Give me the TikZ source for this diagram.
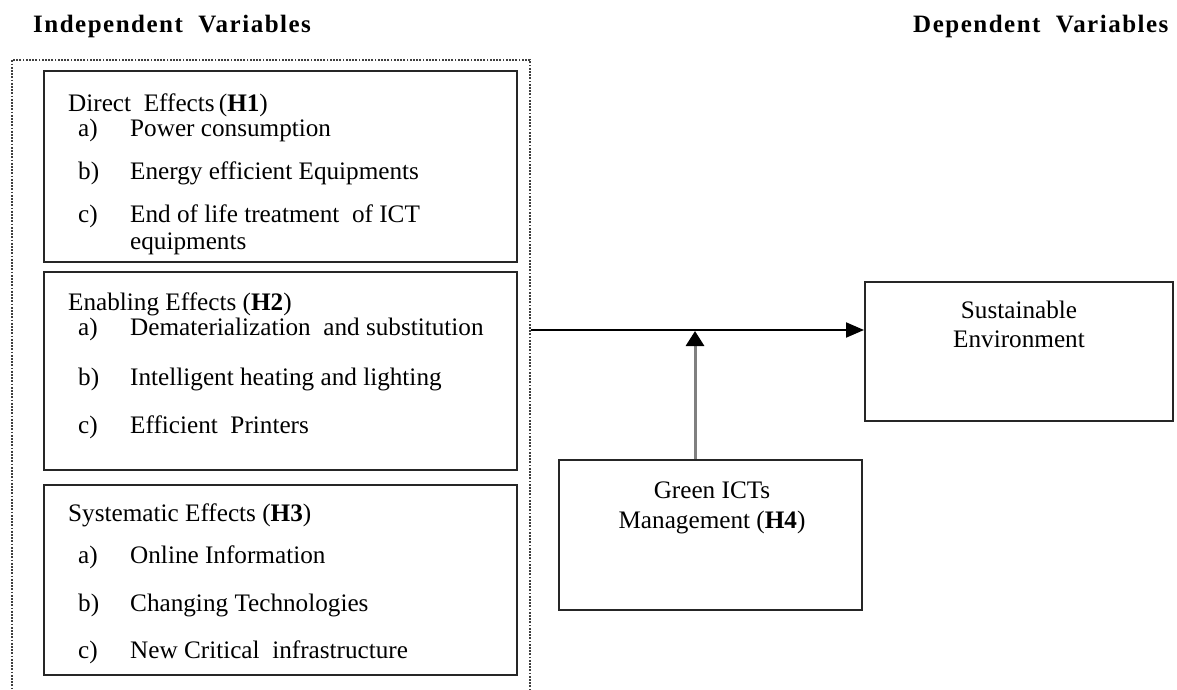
\documentclass[tikz,border=0pt]{standalone}
\usepackage{fontspec}
\setmainfont{Liberation Serif}
\usetikzlibrary{arrows.meta}
\tikzset{
  box/.style={draw=black!85, line width=2pt, inner sep=0pt},
  dotbox/.style={draw=black!75, line width=2pt, dash pattern=on 1.8pt off 1.4pt},
  lbl/.style={anchor=base west, inner sep=0pt},
  ctr/.style={anchor=base, inner sep=0pt, align=center},
  head/.style={anchor=base west, inner sep=0pt, font=\fontsize{25}{28}\selectfont\bfseries\addfontfeature{LetterSpace=6}},
  arr/.style={line width=2pt, -{Triangle[length=18pt,width=15pt]}},
  garr/.style={line width=3pt, draw=black!50, -{Triangle[length=15pt,width=18pt,color=black]}},
}
\begin{document}
\begin{tikzpicture}[x=1pt,y=-1pt,font=\fontsize{25.2}{28}\selectfont]
\useasboundingbox (0,0) rectangle (1177,689);
% headings
\node[head] (hin) at (33,32) {Independent\ \ Variables};
\node[head] (hdep) at (913,32) {Dependent\ \ Variables};
% dotted container
\node[dotbox, minimum width=518pt, minimum height=650pt, inner sep=0pt] (indep) at (271,385) {};
% boxes
\node[box, minimum width=473pt, minimum height=191pt] (h1) at (280.5,166.5) {};
\node[box, minimum width=473pt, minimum height=198pt] (h2) at (280.5,371) {};
\node[box, minimum width=473pt, minimum height=190pt] (h3) at (280.5,580) {};
\node[box, minimum width=308pt, minimum height=139pt] (se) at (1019,351.5) {};
\node[box, minimum width=303pt, minimum height=150pt] (gm) at (710.5,535) {};
% H1 text
\node[lbl] (t1) at (68,111) {Direct\ \ Effects\,(\textbf{H1})};
\node[lbl] (t1a) at (78,136) {a)};
\node[lbl] (t1at) at (130,136) {Power consumption};
\node[lbl] (t1b) at (78,179) {b)};
\node[lbl] (t1bt) at (130,179) {Energy efficient Equipments};
\node[lbl] (t1c) at (78,222) {c)};
\node[lbl] (t1ct) at (130,222) {End of life treatment\ \ of ICT};
\node[lbl] (t1ct2) at (130,249) {equipments};
% H2 text
\node[lbl] (t2) at (68,310) {Enabling Effects (\textbf{H2})};
\node[lbl] (t2a) at (78,335) {a)};
\node[lbl] (t2at) at (130,335) {Dematerialization\ \ and substitution};
\node[lbl] (t2b) at (78,385) {b)};
\node[lbl] (t2bt) at (130,385) {Intelligent heating and lighting};
\node[lbl] (t2c) at (78,433) {c)};
\node[lbl] (t2ct) at (130,433) {Efficient\ \ Printers};
% H3 text
\node[lbl] (t3) at (68,521) {Systematic Effects (\textbf{H3})};
\node[lbl] (t3a) at (78,563) {a)};
\node[lbl] (t3at) at (130,563) {Online Information};
\node[lbl] (t3b) at (78,611) {b)};
\node[lbl] (t3bt) at (130,611) {Changing Technologies};
\node[lbl] (t3c) at (78,658) {c)};
\node[lbl] (t3ct) at (130,658) {New Critical\ \ infrastructure};
% right texts
\node[ctr] (tse1) at (1019,318) {Sustainable};
\node[ctr] (tse2) at (1019,347) {Environment};
\node[ctr] (tgm1) at (712,498) {Green ICTs};
\node[ctr] (tgm2) at (712,528) {Management (\textbf{H4})};
% connectors
\coordinate (join) at (indep.east |- 0,330);
\coordinate (meet) at (695,331);
\draw[arr] (join) -- (se.west |- join);
\draw[garr] (gm.north -| meet) -- (meet);
\end{tikzpicture}
\end{document}
